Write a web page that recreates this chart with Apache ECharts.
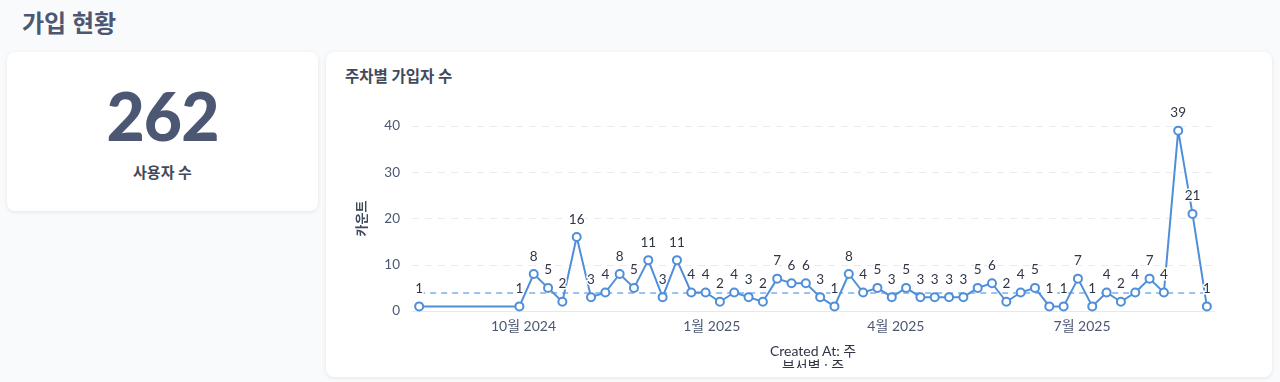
<!DOCTYPE html>
<html>
<head>
<meta charset="utf-8">
<script src="https://cdn.jsdelivr.net/npm/echarts@6/dist/echarts.min.js"></script>
<style>
  html, body { margin: 0; padding: 0; width: 1280px; height: 382px; overflow: hidden;
    background: #f9fafb; font-family: Lato, "Noto Sans CJK KR", sans-serif; color: #4c5773; }
  .page-title { position: absolute; left: 22px; top: 4px; font-size: 24px; font-weight: 700; color: #4c5773; }
  .card { position: absolute; background: #fff; border-radius: 8px;
    box-shadow: 0 1px 4px rgba(0,0,0,0.09); }
  #scalar { left: 7px; top: 52px; width: 311px; height: 159px; }
  #scalar .num { position: absolute; left: 0; right: 0; top: 24px; text-align: center;
    font-size: 66px; font-weight: 900; color: #4c5773; letter-spacing: -1px; }
  #scalar .lbl { position: absolute; left: 0; right: 0; top: 109px; text-align: center;
    font-size: 15px; font-weight: 700; color: #3f4a5c; }
  #lineCard { left: 326px; top: 52px; width: 946px; height: 325px; overflow: hidden; }
  #lineCard .ttl { position: absolute; left: 19px; top: 12px; font-size: 15.5px; font-weight: 700; color: #3f4a5c; }
  #chart { position: absolute; left: 0; top: 0; width: 946px; height: 316px; }
</style>
</head>
<body>
<div class="page-title">가입 현황</div>
<div class="card" id="scalar"><div class="num" id="scalarNum"></div><div class="lbl" id="scalarLbl"></div></div>
<div class="card" id="lineCard"><div class="ttl" id="chartTitle"></div><div id="chart"></div></div>
<script>
// ---- data ----
const scalarValue = ['262'];
const scalarLabel = ['사용자 수'];
const chartTitle = ['주차별 가입자 수'];
const weeks = [
  '2024-08-11',
  '2024-09-29','2024-10-06','2024-10-13','2024-10-20','2024-10-27',
  '2024-11-03','2024-11-10','2024-11-17','2024-11-24',
  '2024-12-01','2024-12-08','2024-12-15','2024-12-22','2024-12-29',
  '2025-01-05','2025-01-12','2025-01-19','2025-01-26',
  '2025-02-02','2025-02-09','2025-02-16','2025-02-23',
  '2025-03-02','2025-03-09','2025-03-16','2025-03-23','2025-03-30',
  '2025-04-06','2025-04-13','2025-04-20','2025-04-27',
  '2025-05-04','2025-05-11','2025-05-18','2025-05-25',
  '2025-06-01','2025-06-08','2025-06-15','2025-06-22','2025-06-29',
  '2025-07-06','2025-07-13','2025-07-20','2025-07-27',
  '2025-08-03','2025-08-10','2025-08-17','2025-08-24','2025-08-31'
];
const counts = [
  1,
  1, 8, 5, 2, 16,
  3, 4, 8, 5,
  11, 3, 11, 4, 4,
  2, 4, 3, 2,
  7, 6, 6, 3,
  1, 8, 4, 5, 3,
  5, 3, 3, 3,
  3, 5, 6, 2,
  4, 5, 1, 1, 7,
  1, 4, 2, 4,
  7, 4, 39, 21, 1
];
const goalLine = [4];
const xTickDates = ['2024-10-01', '2025-01-01', '2025-04-01', '2025-07-01'];
const yTicks = [0, 10, 20, 30, 40];
const yAxisName = ['카운트'];
const xAxisName = ['Created At: 주', '부서별 : 주'];

// ---- render ----
document.getElementById('scalarNum').textContent = scalarValue[0];
document.getElementById('scalarLbl').textContent = scalarLabel[0];
document.getElementById('chartTitle').textContent = chartTitle[0];

function toTs(s) { const p = s.split('-').map(Number); return new Date(p[0], p[1] - 1, p[2]).getTime(); }
const DAY = 86400000;
const pts = weeks.map((w, i) => [toTs(w), counts[i]]);
const xMin = pts[0][0] - 3.5 * DAY;
const xMax = pts[pts.length - 1][0] + 3.5 * DAY;

const FONT = 'Lato, "Noto Sans CJK KR", sans-serif';
const chart = echarts.init(document.getElementById('chart'), null, { renderer: 'canvas' });
chart.setOption({
  animation: false,
  textStyle: { fontFamily: FONT },
  grid: { left: 86, right: 58, top: 74, bottom: 57, containLabel: false, outerBoundsMode: 'none' },
  xAxis: {
    type: 'value',
    min: xMin, max: xMax,
    name: xAxisName.join('\n'),
    nameLocation: 'middle',
    nameGap: 33,
    nameTextStyle: { fontFamily: FONT, fontSize: 14, fontWeight: 'normal', color: '#2e3646', lineHeight: 15, verticalAlign: 'top' },
    axisLine: { show: true, lineStyle: { color: '#e6e8eb', width: 1 } },
    axisTick: { show: false },
    splitLine: { show: false },
    axisLabel: {
      customValues: xTickDates.map(toTs),
      fontFamily: FONT, fontSize: 14, color: '#4c5773', margin: 8,
      formatter: function (v) { const d = new Date(v); return (d.getMonth() + 1) + '월 ' + d.getFullYear(); }
    }
  },
  yAxis: {
    type: 'value',
    min: yTicks[0], max: yTicks[yTicks.length - 1], interval: yTicks[1] - yTicks[0],
    name: yAxisName[0],
    nameLocation: 'middle',
    nameGap: 44,
    nameRotate: 90,
    nameTextStyle: { fontFamily: FONT, fontSize: 13, fontWeight: 700, color: '#3f4a5c' },
    axisLine: { show: false },
    axisTick: { show: false },
    axisLabel: { fontFamily: FONT, fontSize: 13.5, color: '#4c5773', margin: 12 },
    splitLine: { show: true, lineStyle: { color: '#e9ebee', type: [7, 6], width: 1 } }
  },
  series: [{
    type: 'line',
    data: pts,
    symbol: 'circle',
    symbolSize: 8,
    showAllSymbol: true,
    itemStyle: { color: '#fff', borderColor: '#4f8fd9', borderWidth: 2 },
    lineStyle: { color: '#4f8fd9', width: 2 },
    label: {
      show: true, position: 'top', distance: 6,
      fontFamily: FONT, fontSize: 13.5, color: '#2e3646',
      textBorderColor: '#fff', textBorderWidth: 3,
      formatter: p => String(p.value[1])
    },
    z: 3,
    markLine: {
      silent: true,
      symbol: ['none', 'none'],
      label: { show: false },
      lineStyle: { color: '#9dc2ee', type: [6, 5], width: 2 },
      data: [[{ coord: [pts[0][0], goalLine[0]] }, { coord: [pts[pts.length - 1][0], goalLine[0]] }]],
      z: 1
    }
  }]
});
</script>
</body>
</html>
